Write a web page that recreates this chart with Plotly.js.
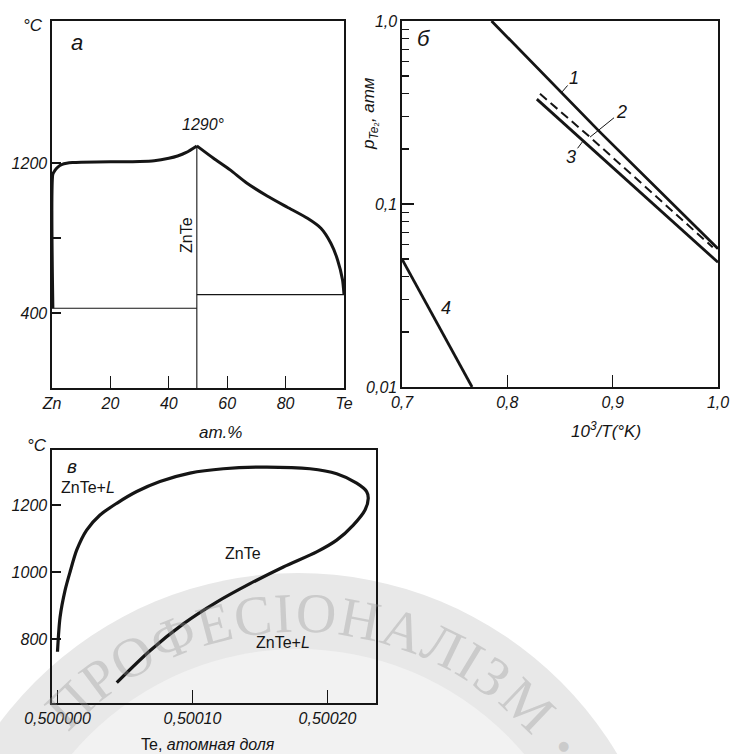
<!DOCTYPE html>
<html>
<head>
<meta charset="utf-8">
<script src="https://cdn.plot.ly/plotly-3.0.1.min.js"></script>
<style>
html,body{margin:0;padding:0;background:#fff;}
#chart{width:730px;height:754px;}
.xtick text, .ytick text { font-style: italic !important; }
</style>
</head>
<body>
<div id="chart"></div>
<script>
// ---------- DATA ----------
// Panel а: Zn–Te phase diagram (ат.% Te, °C)
const aLiqLeftX  = [0.3, 0.3, 1, 2, 3.5, 5, 7, 10, 20, 30, 35, 40, 43, 46, 49.6];
const aLiqLeftT  = [425, 1140, 1160, 1178, 1192, 1198, 1202, 1204, 1206, 1208, 1212, 1225, 1237, 1256, 1291];
const aLiqRightX = [49.6, 55.3, 61, 66.8, 73.7, 80.6, 87.5, 92.1, 95.5, 97.8, 99.5, 100];
const aLiqRightT = [1291, 1225, 1163, 1092, 1024, 964, 905, 852, 772, 683, 576, 498];
const aZnEutX = [0, 49.6];   const aZnEutT = [425, 425];
const aTeEutX = [49.6, 100]; const aTeEutT = [498, 498];
const aCompX  = [49.6, 49.6]; const aCompT  = [0, 1291];
const aTickVals = [0, 20, 40, 60, 80, 100];
const aTickText = ['Zn', '20', '40', '60', '80', 'Te'];
const aYTickVals = [400, 1200];
const aYTickText = ['400', '1200'];
const aYMinorTick = [800];

// Panel б: p(Te2), атм vs 10^3/T
const b1X = [0.785, 0.888, 1.0];    const b1P = [1.0, 0.247, 0.057];
const b2X = [0.831, 0.8785, 0.995]; const b2P = [0.40, 0.232, 0.058];
const b3X = [0.828, 0.872, 1.0];    const b3P = [0.374, 0.221, 0.048];
const b4X = [0.700, 0.7665];        const b4P = [0.050, 0.010];
const bXTickVals = [0.7, 0.8, 0.9, 1.0];
const bXTickText = ['0,7', '0,8', '0,9', '1,0'];
const bYTickVals = [0.01, 0.1, 1];
const bYTickText = ['0,01', '0,1', '1,0'];
const bYMinor = [0.02,0.03,0.04,0.05,0.06,0.07,0.08,0.09,0.2,0.3,0.4,0.5,0.6,0.7,0.8,0.9];

// Panel в: ZnTe homogeneity region (Te atomic fraction, °C)
const cX = [0.5000000,0.5000019,0.5000056,0.5000093,0.5000142,0.5000216,0.5000315,0.5000439,0.5000587,0.5000759,
            0.5000981,0.5001228,0.5001550,0.5001870,0.5002068,0.5002216,0.5002290,0.5002302,0.5002278,0.5002191,
            0.5002068,0.5001920,0.5001673,0.5001426,0.5001179,0.5000932,0.5000685,0.5000439];
const cT = [762, 865, 945, 1000, 1065, 1125, 1170, 1205, 1240, 1270,
            1295, 1308, 1313, 1308, 1293, 1265, 1240, 1220, 1185, 1140,
            1095, 1060, 1015, 965, 910, 845, 765, 670];
const cXTickVals = [0.5, 0.5001, 0.5002];
const cXTickText = ['0,500000', '0,50010', '0,50020'];
const cYTickVals = [800, 1000, 1200];
const cYTickText = ['800', '1000', '1200'];

// Watermark text
const wmLetters = ['П','Р','О','Ф','Е','С','І','О','Н','А','Л','І','З','М'];
const wmWidths  = [0.72,0.56,0.72,0.76,0.61,0.67,0.33,0.72,0.72,0.72,0.68,0.33,0.55,0.89];

// ---------- HELPERS ----------
const W = 730, H = 754;
const px = v => v / W;
const py = v => 1 - v / H;
const FAM = 'Liberation Sans, Arial, sans-serif';
const INK = '#151515';
const tickFont = {family: FAM, size: 16, color: INK, style: 'italic'};

function axisBase(extra) {
  return Object.assign({
    showline: true, mirror: true, linecolor: INK, linewidth: 1.6,
    ticks: 'inside', tickcolor: INK, tickwidth: 1.3,
    showgrid: false, zeroline: false, fixedrange: true,
    tickfont: tickFont, tickmode: 'array'
  }, extra);
}

const thick = {color: INK, width: 3, shape: 'spline', smoothing: 0.6};
const thin = {color: INK, width: 1.1};

const traces = [
  {x: aLiqLeftX, y: aLiqLeftT, xaxis: 'x', yaxis: 'y', mode: 'lines', line: thick},
  {x: aLiqRightX, y: aLiqRightT, xaxis: 'x', yaxis: 'y', mode: 'lines', line: thick},
  {x: aZnEutX, y: aZnEutT, xaxis: 'x', yaxis: 'y', mode: 'lines', line: thin},
  {x: aTeEutX, y: aTeEutT, xaxis: 'x', yaxis: 'y', mode: 'lines', line: thin},
  {x: aCompX, y: aCompT, xaxis: 'x', yaxis: 'y', mode: 'lines', line: thin},

  {x: b1X, y: b1P, xaxis: 'x2', yaxis: 'y2', mode: 'lines', line: {color: INK, width: 2.8}},
  {x: b2X, y: b2P, xaxis: 'x2', yaxis: 'y2', mode: 'lines', line: {color: INK, width: 2, dash: '9px,5px'}},
  {x: b3X, y: b3P, xaxis: 'x2', yaxis: 'y2', mode: 'lines', line: {color: INK, width: 2.8}},
  {x: b4X, y: b4P, xaxis: 'x2', yaxis: 'y2', mode: 'lines', line: {color: INK, width: 2.8}},

  {x: cX, y: cT, xaxis: 'x3', yaxis: 'y3', mode: 'lines', line: {color: INK, width: 3.2, shape: 'spline', smoothing: 0.8}}
];

// watermark geometry (pixels)
const wmCx = 298, wmCy = 945, wmR = 332;
const shapes = [
  {type: 'circle', xref: 'paper', yref: 'paper', layer: 'below',
   x0: px(wmCx - 372), x1: px(wmCx + 372), y0: py(wmCy + 372), y1: py(wmCy - 372),
   fillcolor: '#e8e8e8', line: {width: 0}},
  {type: 'circle', xref: 'paper', yref: 'paper', layer: 'below',
   x0: px(wmCx - 296), x1: px(wmCx + 296), y0: py(wmCy + 296), y1: py(wmCy - 296),
   fillcolor: '#f2f2f2', line: {width: 0}}
];

const ann = [];
function txt(text, x, y, opts) {
  ann.push(Object.assign({
    text: text, xref: 'paper', yref: 'paper', x: px(x), y: py(y),
    xanchor: 'center', yanchor: 'middle', showarrow: false,
    font: {family: FAM, size: 16, color: INK}
  }, opts || {}));
}
const it = (size) => ({font: {family: FAM, size: size, color: INK, style: 'italic'}});

// watermark letters, spaced by glyph width along the arc
{
  const total = wmWidths.reduce((s, v) => s + v, 0);
  const spanDeg = 96, startDeg = -47.5;
  let acc = 0;
  wmLetters.forEach((ch, i) => {
    const th = startDeg + (acc + wmWidths[i] / 2) / total * spanDeg;
    acc += wmWidths[i];
    const r = th * Math.PI / 180;
    txt(ch, wmCx + wmR * Math.sin(r), wmCy - wmR * Math.cos(r),
        {textangle: th, font: {family: 'Liberation Serif, DejaVu Serif, serif', size: 56, color: 'rgba(150,150,150,0.35)'}});
  });
  const th = 53, r = th * Math.PI / 180;
  txt('●', wmCx + wmR * Math.sin(r), wmCy - wmR * Math.cos(r),
      {font: {family: 'DejaVu Sans', size: 13, color: 'rgba(150,150,150,0.35)'}});
}

// panel а labels
txt('°C', 33, 26, it(17));
txt('а', 77, 42, it(22));
txt('1290°', 203, 125, it(16));
txt('ZnTe', 186, 235, {textangle: -90, font: {family: FAM, size: 16, color: INK}});
txt('ат.%', 220, 432, it(17));

// panel б labels
txt('б', 424, 38, it(22));
txt('<i>p</i><sub><i>Te</i>₂</sub><i>, атм</i>', 370, 114, {textangle: -90, font: {family: FAM, size: 17, color: INK}});
txt('<i>10<sup>3</sup>/T(°K)</i>', 606, 430, {font: {family: FAM, size: 17, color: INK}});
txt('4', 446, 308, it(18));

// leaders for curves 1–3 (anchored on the curves in data coordinates)
function leader(label, x, logy, ax, ay) {
  ann.push({text: '<i>' + label + '</i>', xref: 'x2', yref: 'y2', x: x, y: logy,
    ax: ax, ay: ay, showarrow: true, arrowhead: 0, arrowwidth: 1, arrowcolor: INK, standoff: 0,
    font: {family: FAM, size: 18, color: INK}});
}
leader('1', 0.852, Math.log10(0.41), 12, -14);
leader('2', 0.8785, Math.log10(0.232), 31, -25);
leader('3', 0.8719, Math.log10(0.221), -12, 16);

// panel в labels
txt('°C', 37, 445, it(17));
txt('в', 72, 466, it(19));
txt('ZnTe+<i>L</i>', 88, 487);
txt('ZnTe', 243, 553);
txt('ZnTe+<i>L</i>', 283, 642);
txt('Te, <i>атомная доля</i>', 208, 744);

const layout = {
  width: W, height: H,
  margin: {l: 0, r: 0, t: 0, b: 0, pad: 0},
  paper_bgcolor: '#ffffff', plot_bgcolor: 'rgba(0,0,0,0)',
  showlegend: false,
  xaxis: axisBase({domain: [px(52), px(344)], range: [0, 100], anchor: 'y',
    tickvals: aTickVals, ticktext: aTickText, ticklen: 12}),
  yaxis: axisBase({domain: [py(388), py(21)], range: [0, 1957], anchor: 'x',
    tickvals: aYTickVals, ticktext: aYTickText, ticklen: 9,
    minor: {tickmode: 'array', tickvals: aYMinorTick, ticks: 'inside', ticklen: 9, tickcolor: INK, tickwidth: 1.3, showgrid: false}}),
  xaxis2: axisBase({domain: [px(402), px(718)], range: [0.7, 1.0], anchor: 'y2',
    tickvals: bXTickVals, ticktext: bXTickText, ticklen: 12}),
  yaxis2: axisBase({domain: [py(387), py(21)], type: 'log', range: [-2, 0], anchor: 'x2',
    tickvals: bYTickVals, ticktext: bYTickText, ticklen: 12,
    minor: {tickmode: 'array', tickvals: bYMinor, ticks: 'inside', ticklen: 7, tickcolor: INK, tickwidth: 1.2, showgrid: false}}),
  xaxis3: axisBase({domain: [px(52), px(376)], range: [0.49999593, 0.50023593], anchor: 'y3',
    tickvals: cXTickVals, ticktext: cXTickText, ticklen: 13}),
  yaxis3: axisBase({domain: [py(703), py(450)], range: [609, 1364], anchor: 'x3',
    tickvals: cYTickVals, ticktext: cYTickText, ticklen: 9}),
  shapes: shapes,
  annotations: ann
};

Plotly.newPlot('chart', traces, layout, {displayModeBar: false, staticPlot: true});
</script>
</body>
</html>
